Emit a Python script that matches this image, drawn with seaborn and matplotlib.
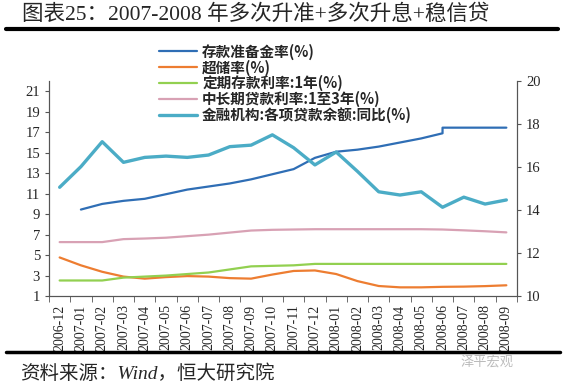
import numpy as np
import pandas as pd
import seaborn as sns
import matplotlib.pyplot as plt
from matplotlib.lines import Line2D

months = ['2006-12', '2007-01', '2007-02', '2007-03', '2007-04', '2007-05', '2007-06',
          '2007-07', '2007-08', '2007-09', '2007-10', '2007-11', '2007-12', '2008-01',
          '2008-02', '2008-03', '2008-04', '2008-05', '2008-06', '2008-07', '2008-08',
          '2008-09']

# 存款准备金率 starts in 2007-01; the 2008-06 step is kept as two readings
rrr_months = ['2007-01', '2007-02', '2007-03', '2007-04', '2007-05', '2007-06', '2007-07',
              '2007-08', '2007-09', '2007-10', '2007-11', '2007-12', '2008-01', '2008-02',
              '2008-03', '2008-04', '2008-05', '2008-06', '2008-06', '2008-07', '2008-08',
              '2008-09']
rrr = [9.45, 10.0, 10.3, 10.5, 10.95, 11.4, 11.7, 12.0, 12.4, 12.9, 13.4, 14.5, 15.1, 15.3,
       15.6, 16.0, 16.4, 16.9, 17.45, 17.45, 17.45, 17.45]
excess = [4.77, 4.0, 3.37, 2.9, 2.7, 2.85, 2.95, 2.9, 2.75, 2.7, 3.1, 3.45, 3.5, 3.15,
          2.46, 1.98, 1.85, 1.85, 1.9, 1.92, 1.97, 2.05]
deposit_1y = [2.52, 2.52, 2.52, 2.8, 2.9, 3.0, 3.15, 3.3, 3.6, 3.9, 3.95, 4.0, 4.14, 4.14,
              4.14, 4.14, 4.14, 4.14, 4.14, 4.14, 4.14, 4.14]
loan_1_3y = [6.27, 6.27, 6.27, 6.56, 6.62, 6.7, 6.85, 7.0, 7.2, 7.4, 7.47, 7.5, 7.53, 7.53,
             7.53, 7.53, 7.53, 7.53, 7.5, 7.42, 7.33, 7.22]
loan_growth = [15.06, 16.02, 17.18, 16.22, 16.45, 16.51, 16.45, 16.56, 16.95, 17.02, 17.5,
               16.9, 16.1, 16.7, 15.8, 14.85, 14.7, 14.85, 14.13, 14.6, 14.28, 14.47]

labels = ['存款准备金率(%)', '超储率(%)', '定期存款利率:1年(%)',
          '中长期贷款利率:1至3年(%)', '金融机构:各项贷款余额:同比(%)']
colors = ['#2F6EB5', '#ED7D31', '#92D050', '#D8A1B4', '#4BACC6']

sns.set_style('ticks')
plt.rcParams['font.family'] = ['Liberation Serif', 'Noto Sans CJK SC']

idx = {m: i for i, m in enumerate(months)}
df = pd.DataFrame({'x': range(len(months)), 'excess': excess, 'dep': deposit_1y,
                   'loan': loan_1_3y, 'growth': loan_growth})
df_rrr = pd.DataFrame({'x': [idx[m] for m in rrr_months], 'rrr': rrr})

fig = plt.figure(figsize=(5.66, 3.88), dpi=100)
ax = fig.add_axes([0.0866, 0.237, 0.8268, 0.554])
ax2 = ax.twinx()

sns.lineplot(data=df_rrr, x='x', y='rrr', ax=ax, color=colors[0], lw=1.6,
             sort=False, estimator=None)
sns.lineplot(data=df, x='x', y='excess', ax=ax, color=colors[1], lw=1.6)
sns.lineplot(data=df, x='x', y='dep', ax=ax, color=colors[2], lw=1.6)
sns.lineplot(data=df, x='x', y='loan', ax=ax, color=colors[3], lw=1.6)
sns.lineplot(data=df, x='x', y='growth', ax=ax2, color=colors[4], lw=2.4)

ax.set_xlim(-0.5, len(months) - 0.5)
ax.set_ylim(1, 22)
ax.set_yticks(range(1, 22, 2))
ax2.set_ylim(10, 20)
ax2.set_yticks(range(10, 21, 2))
ax.set_xticks(range(len(months)))
ax.set_xticklabels(months, rotation=90)
ax.set_xticks(np.arange(-0.5, len(months), 1), minor=True)
ax.tick_params(axis='x', which='major', length=0, labelsize=10, pad=6)
ax.tick_params(axis='x', which='minor', length=4, color='#555555')
ax.tick_params(axis='y', length=3, labelsize=10.5, color='#555555')
ax2.tick_params(axis='y', length=3, labelsize=10.5, color='#555555')
for a in (ax, ax2):
    a.set_xlabel('')
    a.set_ylabel('')
    a.spines['top'].set_visible(False)
    for s in ('left', 'right', 'bottom'):
        a.spines[s].set_color('#555555')
        a.spines[s].set_linewidth(0.8)

handles = [Line2D([], [], color=c, lw=2.4 if i == 4 else 1.6) for i, c in enumerate(colors)]
leg = fig.legend(handles, labels, loc='upper left', bbox_to_anchor=(0.258, 0.922),
                 frameon=False, handlelength=2.6, labelspacing=-0.02, handletextpad=0.35,
                 prop={'family': ['Noto Sans CJK SC'], 'weight': 'bold', 'size': 10.5})

fig.text(0.038, 0.962, '图表25：2007-2008 年多次升准+多次升息+稳信贷', fontsize=15.5,
         va='center', ha='left', family=['Liberation Serif', 'Noto Sans CJK SC'])
fig.add_artist(Line2D([0.01, 0.985], [0.924, 0.924], color='black', lw=3))
fig.add_artist(Line2D([0.01, 0.99], [0.094, 0.094], color='black', lw=2.5))
fig.text(0.035, 0.038, '资料来源：Wind，恒大研究院', fontsize=14, style='italic',
         va='center', ha='left', family=['Liberation Serif', 'Noto Sans CJK SC'])
fig.text(0.86, 0.067, '泽平宏观', fontsize=9.5, color='#bbbbbb', va='center', ha='center',
         family=['Noto Sans CJK SC'])

plt.savefig('out.png', dpi=100)
